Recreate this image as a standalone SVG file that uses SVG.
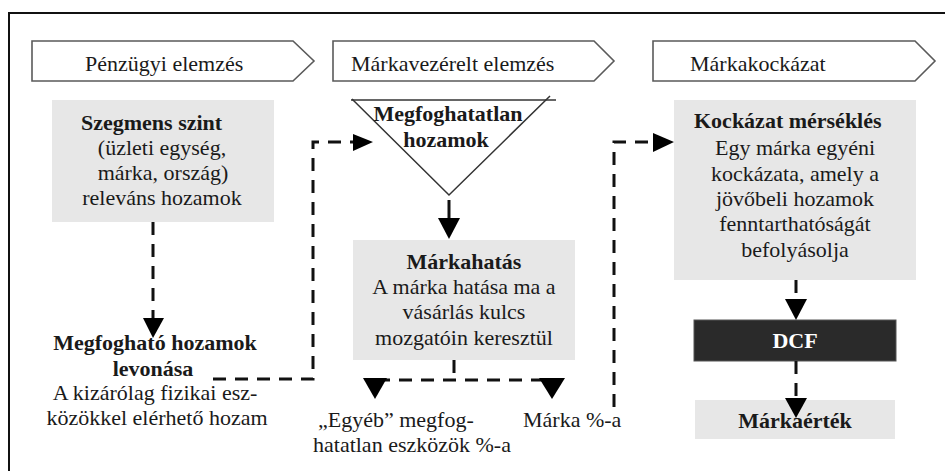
<svg xmlns="http://www.w3.org/2000/svg" width="945" height="471" viewBox="0 0 945 471">
<defs>
<style>
text{font-family:'Liberation Serif','Times New Roman','DejaVu Serif',serif;font-size:22px;fill:#1a1a1a}
.b{font-weight:bold}
.c{text-anchor:middle}
.chev{fill:#fff;stroke:#5a5a5a;stroke-width:1.6}
.box{fill:#e7e7e7}
.dash{fill:none;stroke:#111;stroke-width:3;stroke-dasharray:13 9}
.solid{fill:none;stroke:#111;stroke-width:3}
.ah{fill:#000}
</style>
</defs>
<rect x="0" y="0" width="945" height="471" fill="#fff"/>
<rect x="9" y="13" width="1000" height="500" fill="none" stroke="#111" stroke-width="2"/>

<g id="header1">
<polygon class="chev" points="32,41 293,41 314,61 293,81 32,81"/>
<text font-family="Liberation Serif, serif" x="85" y="71">Pénzügyi elemzés</text>
</g>
<g id="header2">
<polygon class="chev" points="333,41 594,41 614,61 594,81 333,81"/>
<text x="351" y="71">Márkavezérelt elemzés</text>
</g>
<g id="header3">
<polygon class="chev" points="653,41 915,41 935,61 915,81 653,81"/>
<text x="690" y="71">Márkakockázat</text>
</g>

<g id="szegmens">
<rect class="box" x="52" y="100" width="222" height="122"/>
<text class="b" x="81" y="130">Szegmens szint</text>
<text class="c" x="162" y="155">(üzleti egység,</text>
<text class="c" x="163" y="180">márka, ország)</text>
<text class="c" x="162" y="205">releváns hozamok</text>
</g>

<g id="megfoghato">
<text class="b c" x="155" y="350">Megfogható hozamok</text>
<text class="b c" x="153" y="376">levonása</text>
<text class="c" x="155" y="400">A kizárólag fizikai esz-</text>
<text class="c" x="157" y="425">közökkel elérhető hozam</text>
</g>

<g id="megfoghatatlan">
<line x1="351" y1="100" x2="556" y2="100" stroke="#333" stroke-width="1.5"/>
<polyline points="352,99 449,195 550,96" fill="none" stroke="#333" stroke-width="1.5"/>
<text class="b c" x="448" y="121">Megfoghatatlan</text>
<text class="b c" x="446" y="147">hozamok</text>
</g>

<g id="markahatas">
<rect class="box" x="353" y="240" width="222" height="120"/>
<text class="b c" x="464" y="269">Márkahatás</text>
<text class="c" x="464" y="294">A márka hatása ma a</text>
<text class="c" x="464" y="319">vásárlás kulcs</text>
<text class="c" x="464" y="345">mozgatóin keresztül</text>
</g>

<g id="egyeb">
<text x="318" y="427">„Egyéb” megfog-</text>
<text x="313" y="452">hatatlan eszközök %-a</text>
</g>

<g id="markaszazalek">
<text x="523" y="427">Márka %-a</text>
</g>

<g id="kockazat">
<rect class="box" x="674" y="100" width="242" height="180"/>
<text class="b" x="694" y="128">Kockázat mérséklés</text>
<text class="c" x="795" y="155">Egy márka egyéni</text>
<text class="c" x="795" y="181">kockázata, amely a</text>
<text class="c" x="795" y="206">jövőbeli hozamok</text>
<text class="c" x="795" y="231">fenntarthatóságát</text>
<text class="c" x="795" y="257">befolyásolja</text>
</g>

<g id="dcf">
<rect x="694" y="320" width="202" height="41" fill="#2a2a2a" stroke="#555" stroke-width="1"/>
<text class="b c" x="795" y="348" style="fill:#fff">DCF</text>
</g>

<g id="markaertek">
<rect class="box" x="695" y="400" width="200" height="39"/>
<text class="b c" x="795" y="428">Márkaérték</text>
</g>

<g id="connectors">
<path class="dash" d="M153,222 V318"/>
<polygon class="ah" points="143,318 164,318 153,338"/>
<path class="dash" d="M213,379 H313 V142 H355"/>
<polygon class="ah" points="353,134 373,142 353,151"/>
<path class="solid" d="M449,200 V220"/>
<polygon class="ah" points="438,218 460,218 449,239"/>
<path class="dash" d="M454,360 V380 M377,380 H552"/>
<polygon class="ah" points="363,378 387,378 375,399"/>
<polygon class="ah" points="539,378 565,378 552,399"/>
<path class="dash" d="M614,407 V142 H655"/>
<polygon class="ah" points="653,133 674,142 653,152"/>
<path class="dash" d="M796,280 V300"/>
<polygon class="ah" points="785,299 807,299 796,320"/>
<path class="dash" d="M796,361 V398"/>
<polygon class="ah" points="785,398 807,398 796,418"/>
</g>
</svg>
